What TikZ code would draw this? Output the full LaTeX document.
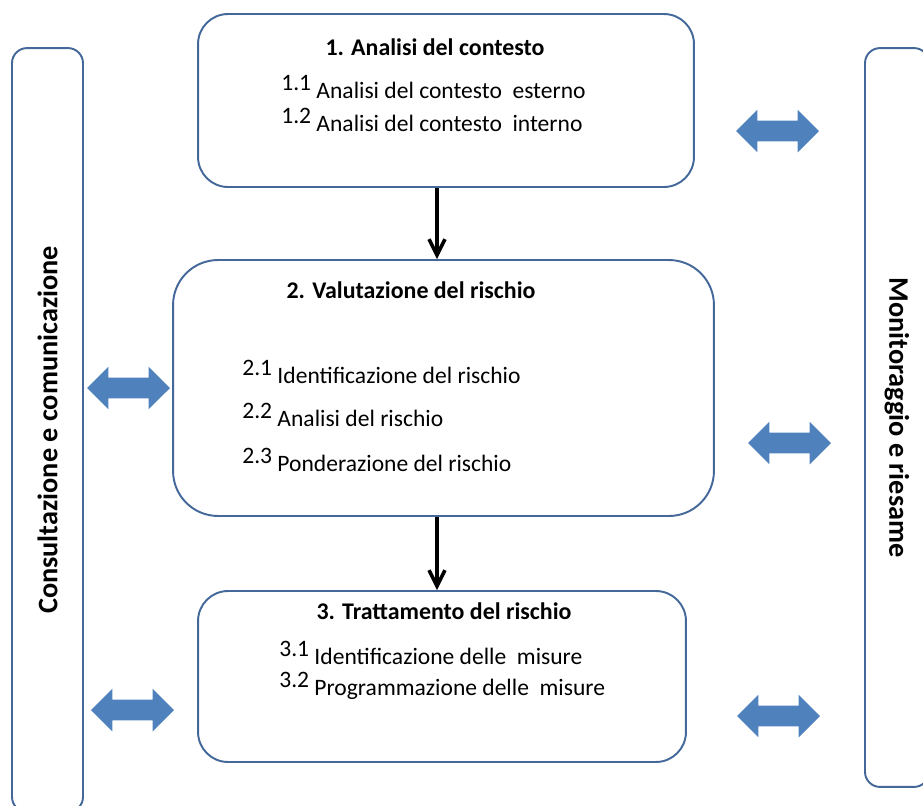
\documentclass[tikz,border=0pt]{standalone}
\usepackage{fontspec}
\setmainfont{Carlito}
\usepackage{tikz}
\usetikzlibrary{arrows.meta,shapes.arrows}
\definecolor{boxblue}{HTML}{44689A}
\definecolor{arrowblue}{HTML}{4F81BD}

\begin{document}
\begin{tikzpicture}[x=0.02cm,y=-0.02cm]

  %Styles for picture
  \tikzset
  {
  phase/.style={draw=boxblue, line width=1.1pt, fill=white, inner sep=0pt},
  sidebar/.style={draw=boxblue, line width=1.1pt, rounded corners=0.3cm, inner sep=0pt,
    font=\fontsize{16.1}{19}\selectfont\bfseries},
  title/.style={anchor=base, inner sep=0pt, font=\fontsize{13.6}{16}\selectfont\bfseries},
  item/.style={anchor=base west, inner sep=0pt, font=\fontsize{13.4}{16}\selectfont},
  dblarrow/.style={double arrow, fill=arrowblue, draw=none, inner sep=0pt,
    minimum height=1.66cm, double arrow head extend=0.22cm},
  flow/.style={-{Straight Barb[length=3.2mm,width=3.2mm]}, line width=2pt},
  }
  \newcommand{\num}[1]{\raisebox{0.3em}{#1}\ }

  \useasboundingbox (0,0) rectangle (923,805);
  \clip (0,0) rectangle (923,805);

  %Side bars
  \node[sidebar, rotate=90, minimum width=15.28cm, minimum height=1.42cm] (cons) at (47.5,430) {Consultazione e comunicazione};
  \node[sidebar, rotate=-90, minimum width=14.78cm, minimum height=1.28cm] (mon) at (897,417.5) {Monitoraggio e riesame};

  %Phases
  \node[phase, rounded corners=0.6cm, minimum width=9.92cm, minimum height=3.46cm] (b1) at (446,100.5) {};
  \node[phase, rounded corners=0.9cm, minimum width=10.82cm, minimum height=5.12cm] (b2) at (443.5,388) {};
  \node[phase, rounded corners=0.6cm, minimum width=9.76cm, minimum height=3.42cm] (b3) at (442,676.5) {};

  %Texts
  \node[title] (t1) at (435,55) {1. Analisi del contesto};
  \node[item] (t11) at (281,98) {\num{1.1}Analisi del contesto~ esterno};
  \node[item] (t12) at (281,131) {\num{1.2}Analisi del contesto~ interno};

  \node[title] (t2) at (411,298) {2. Valutazione del rischio};
  \node[item] (t21) at (242,383) {\num{2.1}Identificazione del rischio};
  \node[item] (t22) at (242,426) {\num{2.2}Analisi del rischio};
  \node[item] (t23) at (242,471) {\num{2.3}Ponderazione del rischio};

  \node[title] (t3) at (444,619) {3. Trattamento del rischio};
  \node[item] (t31) at (279,664) {\num{3.1}Identificazione delle~ misure};
  \node[item] (t32) at (279,695) {\num{3.2}Programmazione delle~ misure};

  %Double arrows
  \node[dblarrow] (r1) at (777.5,131) {\rule{0pt}{0.4cm}};
  \node[dblarrow] (r2) at (789.5,443) {\rule{0pt}{0.4cm}};
  \node[dblarrow] (r3) at (778.5,716) {\rule{0pt}{0.4cm}};
  \node[dblarrow] (l1) at (128.5,388) {\rule{0pt}{0.4cm}};
  \node[dblarrow] (l2) at (132.5,710) {\rule{0pt}{0.4cm}};

  %Edges
  \draw[flow] (b1.south -| 437,0) -- (b2.north -| 437,0);
  \draw[flow] (b2.south -| 437,0) -- (b3.north -| 437,0);
\end{tikzpicture}
\end{document}
